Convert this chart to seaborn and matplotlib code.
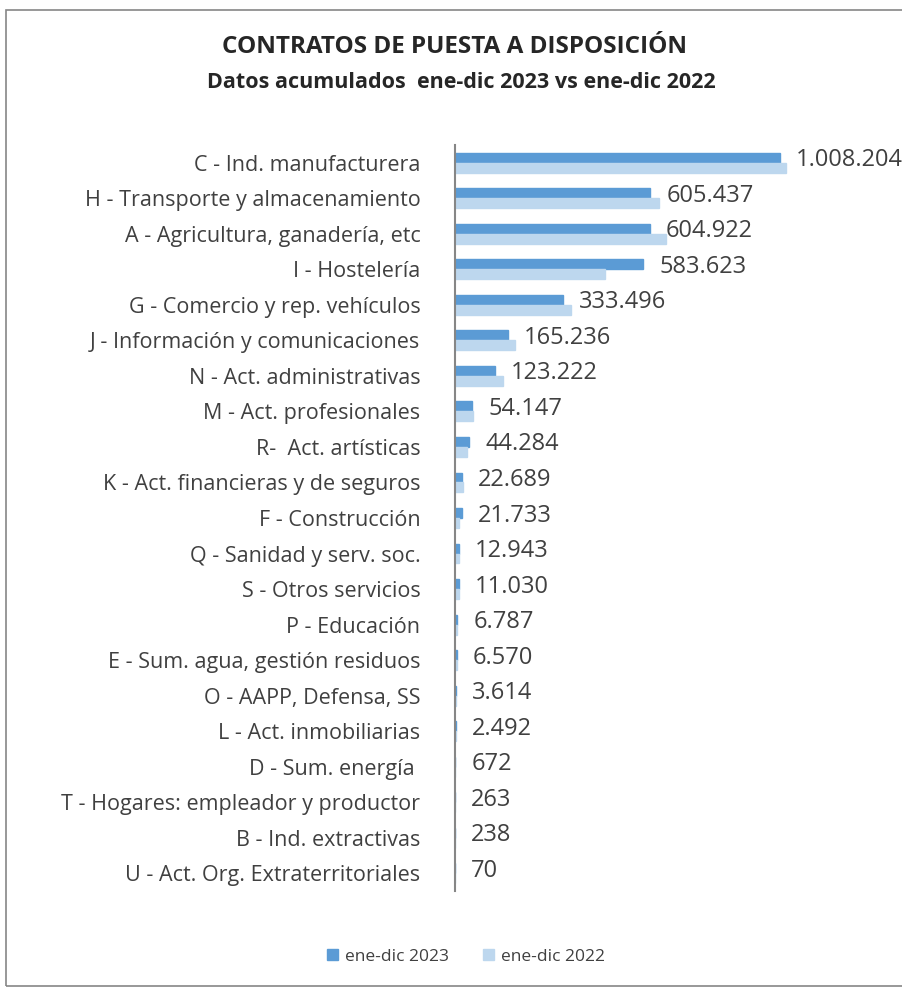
import matplotlib
matplotlib.use("Agg")
import matplotlib.pyplot as plt
import seaborn as sns
import pandas as pd
from matplotlib.patches import Rectangle

categories = [
    "C - Ind. manufacturera",
    "H - Transporte y almacenamiento",
    "A - Agricultura, ganadería, etc",
    "I - Hostelería",
    "G - Comercio y rep. vehículos",
    "J - Información y comunicaciones",
    "N - Act. administrativas",
    "M - Act. profesionales",
    "R-  Act. artísticas",
    "K - Act. financieras y de seguros",
    "F - Construcción",
    "Q - Sanidad y serv. soc.",
    "S - Otros servicios",
    "P - Educación",
    "E - Sum. agua, gestión residuos",
    "O - AAPP, Defensa, SS",
    "L - Act. inmobiliarias",
    "D - Sum. energía ",
    "T - Hogares: empleador y productor",
    "B - Ind. extractivas",
    "U - Act. Org. Extraterritoriales",
]
values_2023 = [1008204, 605437, 604922, 583623, 333496, 165236, 123222, 54147, 44284,
               22689, 21733, 12943, 11030, 6787, 6570, 3614, 2492, 672, 263, 238, 70]
values_2022 = [1027000, 631600, 655300, 464400, 359000, 185800, 149600, 56700, 38100,
               25700, 12400, 13500, 12000, 6000, 6300, 4000, 3000, 700, 300, 250, 80]
series_names = ["ene-dic 2023", "ene-dic 2022"]

df = pd.DataFrame({
    "cat": categories * 2,
    "val": values_2023 + values_2022,
    "serie": [series_names[0]] * len(categories) + [series_names[1]] * len(categories),
})

sns.set_style("white")
plt.rcParams["font.family"] = ["Open Sans", "DejaVu Sans"]

W, H = 903, 988
fig = plt.figure(figsize=(W / 100, H / 100), dpi=100)
ax = fig.add_axes([455 / W, 1 - 891 / H, (842 - 455) / W, (891 - 145) / H])

palette = {series_names[0]: "#5B9BD5", series_names[1]: "#BDD7EE"}
sns.barplot(data=df, y="cat", x="val", hue="serie", hue_order=series_names,
            order=categories, palette=palette, orient="h", width=0.56,
            saturation=1, legend=False, ax=ax)
for p in ax.patches:
    p.set_edgecolor(p.get_facecolor())
    p.set_linewidth(1.0)

ax.set_xlim(0, 1200000)
ax.set_ylim(len(categories) - 0.5, -0.5)
for s in ["top", "right", "bottom"]:
    ax.spines[s].set_visible(False)
ax.spines["left"].set_color("#868686")
ax.spines["left"].set_linewidth(1.5)
ax.spines["left"].set_zorder(5)
ax.set_xticks([])
ax.set_xlabel("")
ax.set_ylabel("")
ax.tick_params(axis="y", length=0, pad=25, labelsize=15.5, labelcolor="#404040")

def fmt(v):
    return f"{v:,}".replace(",", ".")

for i, v in enumerate(values_2023):
    ax.annotate(fmt(v), xy=(v, i - 0.07), xytext=(11.5, 0), textcoords="offset points",
                ha="left", va="center", fontsize=17, color="#404040", annotation_clip=False)

fig.text(455 / W, 1 - 47 / H, "CONTRATOS DE PUESTA A DISPOSICIÓN", ha="center", va="center",
         fontsize=17.5, fontweight="bold", color="#262626")
fig.text(461 / W, 1 - 82 / H, "Datos acumulados  ene-dic 2023 vs ene-dic 2022", ha="center",
         va="center", fontsize=15.5, fontweight="bold", color="#262626")

# legend
handles = [Rectangle((0, 0), 1, 1, color=palette[n]) for n in series_names]
fig.legend(handles, series_names, loc="center", bbox_to_anchor=(466 / W, 1 - 957 / H),
           ncol=2, frameon=False, fontsize=12.5, handlelength=0.6, handleheight=0.6,
           columnspacing=2.0, handletextpad=0.4, labelcolor="#404040")

# outer border
fig.patches.append(Rectangle((6 / W, 1 - 986 / H), 1.2, (986 - 10) / H, transform=fig.transFigure,
                             fill=False, edgecolor="#868686", linewidth=1.2))

fig.savefig("out.png", dpi=100)
